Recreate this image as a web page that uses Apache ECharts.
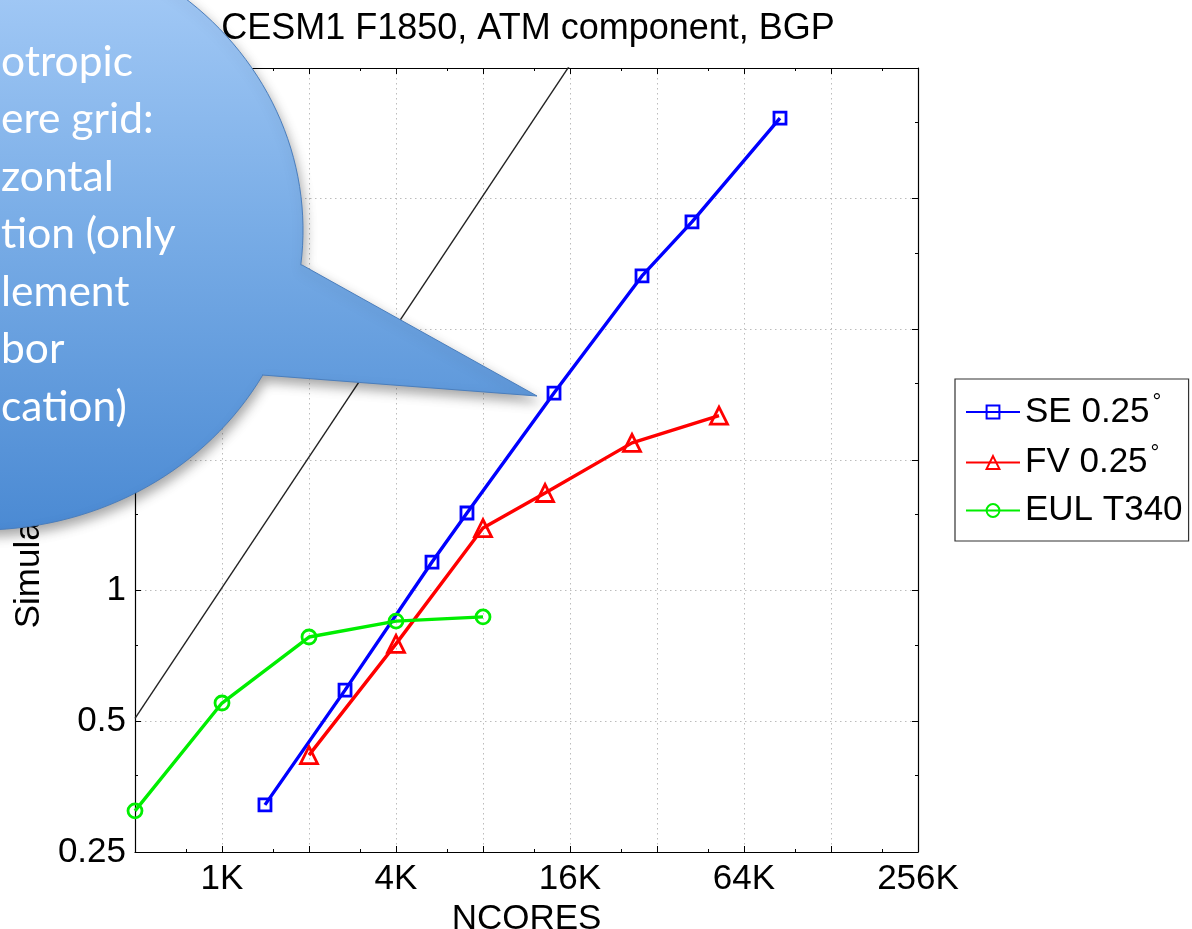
<!DOCTYPE html>
<html><head><meta charset="utf-8">
<script src="https://cdn.jsdelivr.net/npm/echarts@6/dist/echarts.min.js"></script>
<style>html,body{margin:0;padding:0;background:#fff}#chart{width:1192px;height:929px}</style>
</head><body><div id="chart"></div>
<script>
// ---- data ----
const chartTitle = 'CESM1 F1850, ATM component, BGP';
const xAxisName = 'NCORES';
const yAxisName = 'Simulated years / day';
const xTickValues = [1024, 4096, 16384, 65536, 262144];
const xTickLabels = ['1K', '4K', '16K', '64K', '256K'];
const yTickValues = [0.25, 0.5, 1, 2, 4, 8, 16];
const yTickLabels = ['0.25', '0.5', '1', '2', '4', '8', '16'];
const seriesNames = ['SE 0.25°', 'FV 0.25°', 'EUL T340'];
const seCores = [1442, 2729, 5457, 7210, 14424, 29080, 43300, 87300];
const seSYPD = [0.321, 0.590, 1.164, 1.510, 2.853, 5.31, 7.07, 12.27];
const fvCores = [2048, 4096, 8192, 13430, 26850, 53700];
const fvSYPD = [0.418, 0.754, 1.394, 1.679, 2.19, 2.53];
const eulCores = [512, 1024, 2048, 4096, 8192];
const eulSYPD = [0.311, 0.551, 0.782, 0.851, 0.870];
const idealCores = [512, 16384];
const idealSYPD = [0.508, 16.26];
const calloutLines = ['otropic', 'ere grid:', 'zontal', 'tion (only', 'lement', 'bor', 'cation)'];

// ---- helpers ----
const pair = (xs, ys) => xs.map((x, i) => [x, ys[i]]);
const FONT = '"Liberation Sans", Arial, Helvetica, sans-serif';
function fmtX(v) {
  const i = xTickValues.findIndex(t => Math.abs(t - v) / t < 1e-6);
  return i >= 0 ? xTickLabels[i] : '';
}
function fmtY(v) {
  const i = yTickValues.findIndex(t => Math.abs(t - v) / t < 1e-6);
  return i >= 0 ? yTickLabels[i] : '';
}
function bubblePoints() {
  const cx = -20, cy = 230, a = 323, b = 300;
  const pts = [[302, 265], [537, 396], [262, 375]];
  const t0 = Math.atan2((375 - cy) / b, (262 - cx) / a);
  const t1 = Math.atan2((265 - cy) / b, (302 - cx) / a) + 2 * Math.PI;
  const n = 180;
  for (let i = 0; i <= n; i++) {
    const t = t0 + (t1 - t0) * i / n;
    pts.push([cx + a * Math.cos(t), cy + b * Math.sin(t)]);
  }
  return pts;
}

const gridLine = { show: true, lineStyle: { color: '#bcbcbc', width: 1, type: [1.5, 3.5] } };
const axisLineStyle = { show: true, onZero: false, lineStyle: { color: '#000', width: 1.2 } };

const xBase = { type: 'log', logBase: 2, min: 512, max: 262144 };
const yBase = { type: 'log', logBase: 2, min: 0.25, max: 16 };

const chart = echarts.init(document.getElementById('chart'));
const markerStyle = c => ({ color: 'rgba(255,255,255,0)', borderColor: c, borderWidth: 2.8 });

const option = {
  backgroundColor: '#fff',
  animation: false,
  title: {
    text: chartTitle, left: 528, top: 11, textAlign: 'center', padding: 0,
    textStyle: { fontFamily: FONT, fontSize: 36, fontWeight: 'normal', color: '#000' }
  },
  grid: { left: 135, right: 274, top: 68, bottom: 77, containLabel: false, outerBoundsMode: 'none' },
  legend: {
    data: seriesNames, orient: 'vertical', left: 955, top: 379,
    padding: [13, 6, 13, 10], itemGap: 13, itemWidth: 54, itemHeight: 16,
    borderColor: '#333', borderWidth: 1.2, backgroundColor: '#fff',
    formatter: n => n.endsWith('°') ? '{t|' + n.slice(0, -1) + '}{d|°}' : '{t|' + n + '}',
    textStyle: {
      fontFamily: FONT, fontSize: 35, color: '#000',
      rich: {
        t: { fontFamily: FONT, fontSize: 35, color: '#000', lineHeight: 40 },
        d: { fontFamily: FONT, fontSize: 22, color: '#000', verticalAlign: 'top', lineHeight: 40, padding: [0, 0, 0, 3] }
      }
    }
  },
  xAxis: [
    Object.assign({}, xBase, {
      position: 'bottom', name: xAxisName, nameLocation: 'middle', nameGap: 34,
      nameTextStyle: { fontFamily: FONT, fontSize: 35, color: '#000' },
      axisLine: axisLineStyle,
      axisTick: { show: true, inside: true, length: 6, lineStyle: { color: '#000' } },
      minorTick: { show: true, splitNumber: 2, length: 3, lineStyle: { color: '#000' } },
      axisLabel: { formatter: fmtX, fontFamily: FONT, fontSize: 35, color: '#000', margin: 10, showMaxLabel: true, showMinLabel: true },
      splitLine: gridLine
    }),
    Object.assign({}, xBase, {
      position: 'top', axisLine: axisLineStyle,
      axisTick: { show: true, inside: true, length: 6, lineStyle: { color: '#000' } },
      minorTick: { show: true, splitNumber: 2, length: 3, lineStyle: { color: '#000' } },
      axisLabel: { show: false }, splitLine: { show: false }
    })
  ],
  yAxis: [
    Object.assign({}, yBase, {
      position: 'left', name: yAxisName, nameLocation: 'middle', nameGap: 86,
      nameTextStyle: { fontFamily: FONT, fontSize: 35, color: '#000' },
      axisLine: axisLineStyle,
      axisTick: { show: true, inside: true, length: 6, lineStyle: { color: '#000' } },
      minorTick: { show: true, splitNumber: 2, length: 3, lineStyle: { color: '#000' } },
      axisLabel: { formatter: fmtY, fontFamily: FONT, fontSize: 35, color: '#000', margin: 9, showMaxLabel: true, showMinLabel: true },
      splitLine: gridLine
    }),
    Object.assign({}, yBase, {
      position: 'right', axisLine: axisLineStyle,
      axisTick: { show: true, inside: true, length: 6, lineStyle: { color: '#000' } },
      minorTick: { show: true, splitNumber: 2, length: 3, lineStyle: { color: '#000' } },
      axisLabel: { show: false }, splitLine: { show: false }
    })
  ],
  series: [
    {
      name: 'ideal', type: 'line', data: pair(idealCores, idealSYPD), showSymbol: false, symbol: 'none',
      lineStyle: { color: '#222', width: 1.4 }, silent: true, z: 1
    },
    {
      name: seriesNames[0], type: 'line', data: pair(seCores, seSYPD),
      symbol: 'rect', symbolSize: 12, itemStyle: markerStyle('#0000ff'),
      lineStyle: { color: '#0000ff', width: 3.4 }, z: 2
    },
    {
      name: seriesNames[1], type: 'line', data: pair(fvCores, fvSYPD),
      symbol: 'triangle', symbolSize: 17, itemStyle: markerStyle('#ff0000'),
      lineStyle: { color: '#ff0000', width: 3.4 }, z: 3
    },
    {
      name: seriesNames[2], type: 'line', data: pair(eulCores, eulSYPD),
      symbol: 'circle', symbolSize: 14, itemStyle: markerStyle('#00ee00'),
      lineStyle: { color: '#00ee00', width: 3.4 }, z: 4
    }
  ],
  graphic: [
    {
      type: 'polygon', z: 100, silent: true,
      shape: { points: bubblePoints() },
      style: {
        fill: new echarts.graphic.LinearGradient(0, -70, 0, 530, [
          { offset: 0, color: '#abcff9' },
          { offset: 0.5, color: '#78ace6' },
          { offset: 1, color: '#4b8ad3' }
        ], true),
        stroke: '#4a7ebd', lineWidth: 1,
        shadowBlur: 12, shadowOffsetX: 2, shadowOffsetY: 6, shadowColor: 'rgba(0,0,0,0.35)'
      }
    }
  ].concat(calloutLines.map((s, i) => ({
    type: 'text', z: 101, silent: true, x: 1, y: 62 + i * 57.5,
    style: { text: s, fill: '#ffffff', font: '42.5px Lato', textVerticalAlign: 'middle', verticalAlign: 'middle' }
  })))
};
chart.setOption(option);
</script></body></html>
